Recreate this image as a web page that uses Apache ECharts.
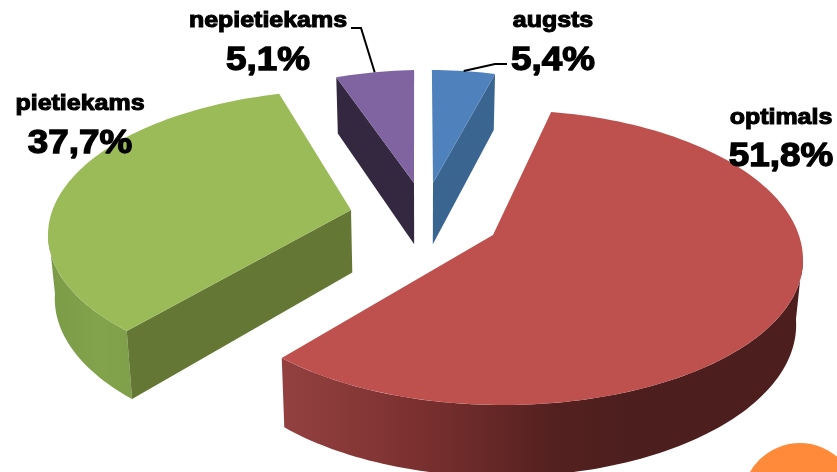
<!DOCTYPE html>
<html><head><meta charset="utf-8">
<style>html,body{margin:0;padding:0;background:#fff}#c{width:837px;height:472px}</style>
<script src="https://cdn.jsdelivr.net/npm/echarts@6/dist/echarts.min.js"></script>
</head><body><div id="c"></div>
<script>
const categories = ['augsts', 'optimals', 'pietiekams', 'nepietiekams'];
const values = [5.4, 51.8, 37.7, 5.1];

// Drawing style: ellipse of each exploded slice, its apex and rim skew (deg), face colours.
const sliceLayouts = [
  {cx:430, cy:205, rx:270, top:135, bot:135, ax:3,   ay:-22, skew:[0.4,-5.5],  cut:'end',   topColor:'#4F81BD', cutColor:'#3B6591'},
  {cx:503, cy:260, rx:300, top:150, bot:145, ax:-10, ay:-25, skew:[-10.2,21.6],cut:null,  topColor:'#BE504D',
    side:[[283,'#934140'],[420,'#7A302F'],[560,'#52201F'],[640,'#4C1E1E'],[803,'#4C1E1E']]},
  {cx:348, cy:235, rx:300, top:145, bot:142, ax:3,   ay:-25, skew:[21.6,5.1],  cut:'start', topColor:'#9BBB59', cutColor:'#657735',
    side:[[48,'#7C9B48'],[100,'#82A24B'],[134,'#7F9F4A']]},
  {cx:424, cy:205, rx:270, top:135, bot:135, ax:-10, ay:-22, skew:[-0.6,-2.1], cut:'start', topColor:'#8064A2', cutColor:'#33283F'}
];
const labelLayouts = [
  {x:553, nameY:21, valueY:61,  leader:[[507,64],[495,64]]},
  {x:781, nameY:118,valueY:157},
  {x:80,  nameY:104,valueY:144},
  {x:268, nameY:21, valueY:61,  leader:[[351,28],[361,28]]}
];
const vanishX = 423, depthScaleX = 0.982, depthBase = 52.6, depthSlope = 0.047;

const total = values.reduce((a, b) => a + b, 0);
const fmt = v => v.toFixed(1).replace('.', ',') + '%';
const rad = d => d * Math.PI / 180;
function rimPoint(l, psi) {
  const c = Math.cos(rad(psi));
  return [l.cx + l.rx * Math.sin(rad(psi)), l.cy - (c >= 0 ? l.top : l.bot) * c];
}
const lower = p => [vanishX + depthScaleX * (p[0] - vanishX), p[1] + depthBase + depthSlope * p[1]];
function rimRange(l, a, b) {
  const n = Math.max(2, Math.ceil(Math.abs(b - a) / 1.5));
  const out = [];
  for (let i = 0; i <= n; i++) out.push(rimPoint(l, a + (b - a) * i / n));
  return out;
}
function renderItem(params, api) {
  const i = params.dataIndex;
  const l = sliceLayouts[i];
  let before = 0;
  for (let k = 0; k < i; k++) before += values[k];
  const v = api.value(0);
  const a0 = before / total * 360 + l.skew[0];
  const a1 = (before + v) / total * 360 + l.skew[1];
  const apex = [l.cx + l.ax, l.cy + l.ay];
  const children = [];
  // outer wall on the visible front part of the rim
  const w0 = Math.max(a0, 88), w1 = Math.min(a1, 272);
  if (w1 > w0 && l.side) {
    const rim = rimRange(l, w0, w1);
    const poly = rim.concat(rim.map(lower).reverse());
    const xs = l.side.map(s => s[0]);
    const x0 = xs[0], x1 = xs[xs.length - 1];
    children.push({type:'polygon', shape:{points:poly}, style:{
      fill:new echarts.graphic.LinearGradient(x0, 0, x1, 0,
        l.side.map(s => ({offset:(s[0]-x0)/(x1-x0), color:s[1]})), true)}});
  }
  // flat cut face
  if (l.cut) {
    const edge = rimPoint(l, l.cut === 'start' ? a0 : a1);
    children.push({type:'polygon', shape:{points:[edge, apex, lower(apex), lower(edge)]},
      style:{fill:l.cutColor}});
  }
  // top surface
  children.push({type:'polygon', shape:{points:[apex].concat(rimRange(l, a0, a1))},
    style:{fill:l.topColor}});
  // leader line
  const lab = labelLayouts[i];
  if (lab.leader) {
    children.push({type:'polyline', shape:{points:lab.leader.concat([rimPoint(l, (a0 + a1) / 2)])},
      style:{stroke:'#000', lineWidth:2, fill:null}});
  }
  // labels
  const txt = (t, y, size, sw) => ({type:'text', z2:20, x:lab.x, y:y, scaleX:1.1, style:{text:t, x:0, y:0, align:'center', verticalAlign:'middle',
    fontFamily:'"Liberation Sans"', fontWeight:'bold', fontSize:size, fill:'#000', stroke:'#000', lineWidth:sw}});
  children.push(txt(categories[i], lab.nameY, 22.7, 1.1));
  children.push(txt(fmt(v), lab.valueY, 33.5, 1.3));
  return {type:'group', children};
}
const chart = echarts.init(document.getElementById('c'), null, {renderer:'canvas'});
chart.setOption({
  animation:false,
  backgroundColor:'#fff',
  graphic:[{type:'circle', shape:{cx:800, cy:500.6, r:57.6}, style:{fill:'#FF8A3A'}, z:-1}],
  series:[{type:'custom', coordinateSystem:'none', silent:true, renderItem, data:values.map(v => [v]), clip:false, z:5}]
});
</script></body></html>
